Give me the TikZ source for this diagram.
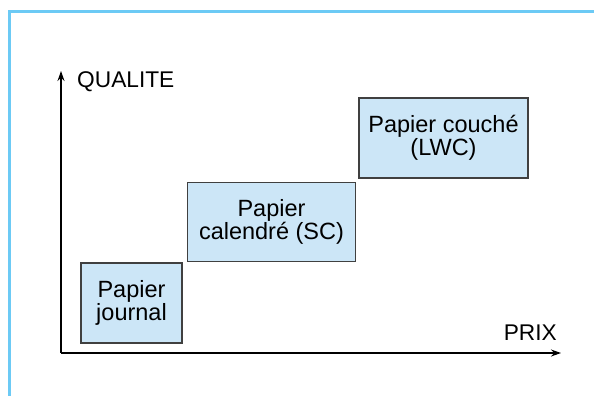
\documentclass[tikz,border=0pt]{standalone}
\usepackage{fontspec}
\setmainfont{Liberation Sans}
\usetikzlibrary{positioning, arrows.meta}

\definecolor{cadrebleu}{HTML}{6CCAF5}
\definecolor{papierbleu}{HTML}{CCE6F7}

\begin{document}
\begin{tikzpicture}[
        x=1pt, y=-1pt,
        papier/.style={
                rectangle,
                draw=black!75,
                fill=papierbleu,
                line width=1.5pt,
                align=center,
                inner sep=0pt,
                minimum height=80pt,
                font=\fontsize{23.5}{23}\selectfont
            },
        axe/.style = {font=\fontsize{22.7}{26}\selectfont, inner sep=0pt},
        >= {Stealth[length=10pt, width=7pt]}
    ]
    \useasboundingbox (0,0) rectangle (594,396);
    \draw[cadrebleu, line width=3pt] (9,396) -- (9,11.5) -- (594,11.5);

    % axes
    \coordinate (origine) at (61,353);
    \coordinate (haut) at (61,71);
    \coordinate (droite) at (561,353);
    \draw[->, line width=1.3pt] (origine) -- (haut);
    \draw[->, line width=1.3pt] (origine) -- (droite);
    \node[axe, anchor=base west] (qualite) at (77,88) {QUALITE};
    \node[axe, anchor=base east] (prix) at (557,340) {PRIX};

    \node[papier, minimum width=101pt] (journal) at (131.5,303) {Papier\\journal};
    \node[papier, minimum width=168pt, minimum height=79pt] (calendre) [above right=0pt and 4pt of journal] {Papier\\calendré (SC)};
    \node[papier, minimum width=169pt] (couche) [above right=3pt and 2pt of calendre] {Papier couché\\(LWC)};
\end{tikzpicture}
\end{document}
